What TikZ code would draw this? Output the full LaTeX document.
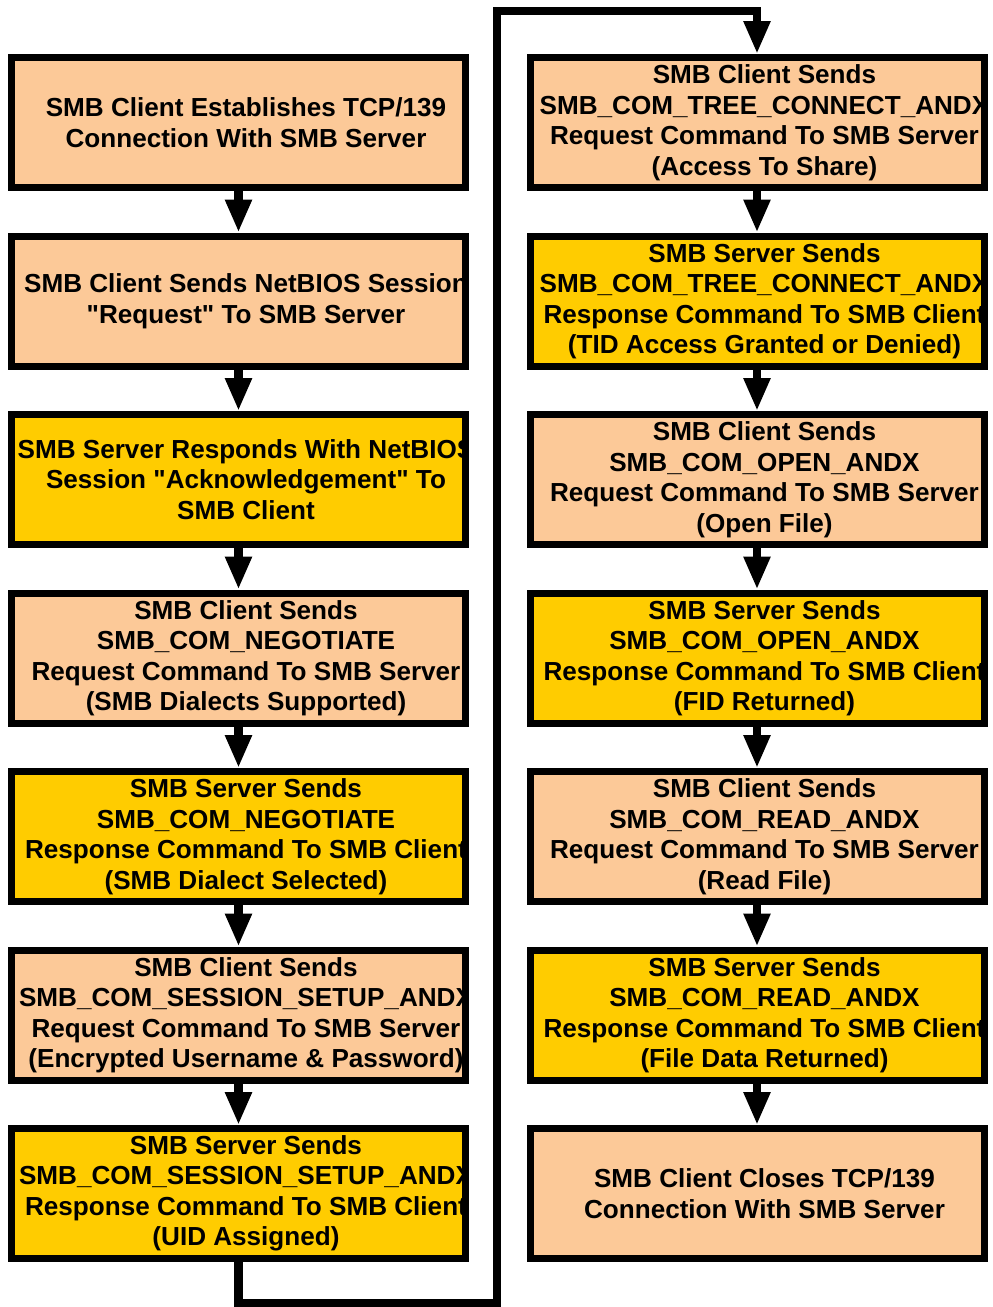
\documentclass[tikz,border=0pt]{standalone}
\usepackage{fontspec}
\setmainfont{Liberation Sans}
\usetikzlibrary{arrows.meta}
\definecolor{peach}{RGB}{252,201,152}
\definecolor{gold}{RGB}{255,204,0}
\newcommand\sq{\XeTeXglyph\XeTeXcharglyph"0022\relax}
\newcommand\smbbox[5]{%
  \node[stepbox, fill=#4, path picture={\node[txt] (#1t) at ([xshift=7.5pt]path picture bounding box.center) {#5};}] (#1) at (#2,#3) {};}
\begin{document}
\begin{tikzpicture}[x=1pt,y=-1pt,
  stepbox/.style={draw=black, line width=7pt, minimum width=454pt, minimum height=130pt, inner sep=0pt},
  txt/.style={font=\bfseries\fontsize{26.1}{30.5}\selectfont, align=center, inner sep=0pt, text=black},
  conn/.style={draw=black, line width=8.5pt, -{Triangle[width=25pt,length=33pt]}}]
\useasboundingbox (0,0) rectangle (993,1307);
\fill[white] (0,0) rectangle (993,1307);

\smbbox{l1}{238.5}{122.5}{peach}{SMB Client Establishes TCP/139\\Connection With SMB Server}
\smbbox{l2}{238.5}{301}{peach}{SMB Client Sends NetBIOS Session\\\sq Request\sq{} To SMB Server}
\smbbox{l3}{238.5}{479.5}{gold}{SMB Server Responds With NetBIOS\\Session \sq Acknowledgement\sq{} To\\SMB Client}
\smbbox{l4}{238.5}{658}{peach}{SMB Client Sends\\SMB\_COM\_NEGOTIATE\\Request Command To SMB Server\\(SMB Dialects Supported)}
\smbbox{l5}{238.5}{836.5}{gold}{SMB Server Sends\\SMB\_COM\_NEGOTIATE\\Response Command To SMB Client\\(SMB Dialect Selected)}
\smbbox{l6}{238.5}{1015}{peach}{SMB Client Sends\\SMB\_COM\_SESSION\_SETUP\_ANDX\\Request Command To SMB Server\\(Encrypted Username \& Password)}
\smbbox{l7}{238.5}{1193.5}{gold}{SMB Server Sends\\SMB\_COM\_SESSION\_SETUP\_ANDX\\Response Command To SMB Client\\(UID Assigned)}

\smbbox{r1}{757}{122.5}{peach}{SMB Client Sends\\SMB\_COM\_TREE\_CONNECT\_ANDX\\Request Command To SMB Server\\(Access To Share)}
\smbbox{r2}{757}{301}{gold}{SMB Server Sends\\SMB\_COM\_TREE\_CONNECT\_ANDX\\Response Command To SMB Client\\(TID Access Granted or Denied)}
\smbbox{r3}{757}{479.5}{peach}{SMB Client Sends\\SMB\_COM\_OPEN\_ANDX\\Request Command To SMB Server\\(Open File)}
\smbbox{r4}{757}{658}{gold}{SMB Server Sends\\SMB\_COM\_OPEN\_ANDX\\Response Command To SMB Client\\(FID Returned)}
\smbbox{r5}{757}{836.5}{peach}{SMB Client Sends\\SMB\_COM\_READ\_ANDX\\Request Command To SMB Server\\(Read File)}
\smbbox{r6}{757}{1015}{gold}{SMB Server Sends\\SMB\_COM\_READ\_ANDX\\Response Command To SMB Client\\(File Data Returned)}
\smbbox{r7}{757}{1193.5}{peach}{SMB Client Closes TCP/139\\Connection With SMB Server}

\draw[conn] (l1.south) -- (l2.north);
\draw[conn] (l2.south) -- (l3.north);
\draw[conn] (l3.south) -- (l4.north);
\draw[conn] (l4.south) -- (l5.north);
\draw[conn] (l5.south) -- (l6.north);
\draw[conn] (l6.south) -- (l7.north);

\coordinate (w1) at (497,1303);
\coordinate (w2) at (497,11);
\draw[conn] (l7.south) |- (w1) -- (w2) -| (r1.north);

\draw[conn] (r1.south) -- (r2.north);
\draw[conn] (r2.south) -- (r3.north);
\draw[conn] (r3.south) -- (r4.north);
\draw[conn] (r4.south) -- (r5.north);
\draw[conn] (r5.south) -- (r6.north);
\draw[conn] (r6.south) -- (r7.north);
\end{tikzpicture}
\end{document}
